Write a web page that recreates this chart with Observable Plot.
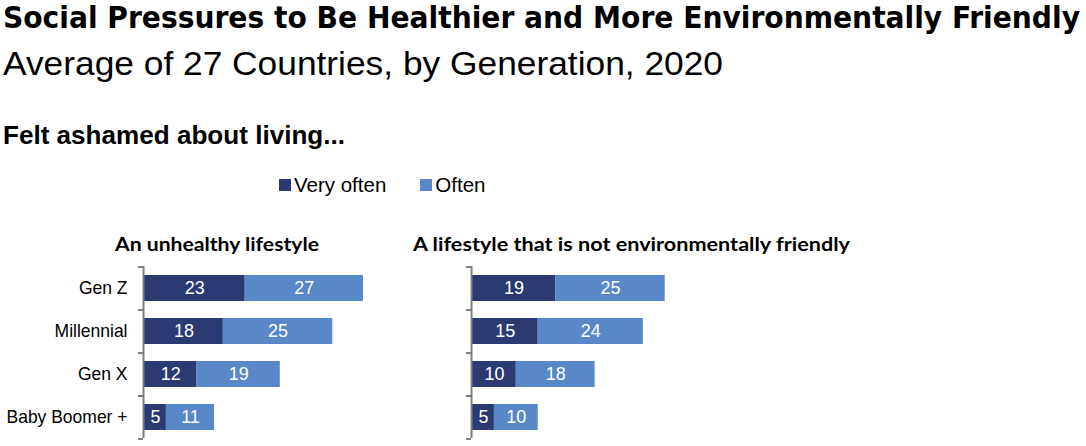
<!DOCTYPE html>
<html>
<head>
<meta charset="utf-8">
<script src="https://cdn.jsdelivr.net/npm/d3@7"></script>
<script src="https://cdn.jsdelivr.net/npm/@observablehq/plot@0.6"></script>
<style>
  html, body { margin: 0; padding: 0; background: #fff; }
  #root { position: relative; width: 1086px; height: 446px; overflow: hidden; font-family: "Liberation Sans", Arial, sans-serif; }
  .abs { position: absolute; }
  #legend { display: flex; align-items: center; font-size: 20.5px; color: #000; line-height: 1; }
  #legend .sw { display: inline-block; width: 12px; height: 12px; margin-right: 3px; }
  #legend .item { display: inline-flex; align-items: center; }
</style>
</head>
<body>
<div id="root">
  <svg id="header" class="abs" style="left:0;top:0" width="1086" height="262"></svg>
  <div id="legend" class="abs" style="left:279px;top:175px"></div>
  <div id="left" class="abs" style="left:0;top:264px"></div>
  <div id="right" class="abs" style="left:462px;top:264px"></div>
</div>
<script>
// ---- Data ----
const generations = ["Gen Z", "Millennial", "Gen X", "Baby Boomer +"];
const series = ["Very often", "Often"];
const seriesColors = ["#2b3a73", "#5888c7"];
const unhealthyVeryOften = [23, 18, 12, 5];
const unhealthyOften = [27, 25, 19, 11];
const environmentVeryOften = [19, 15, 10, 5];
const environmentOften = [25, 24, 18, 10];

const titleText = "Social Pressures to Be Healthier and More Environmentally Friendly";
const subtitleText = "Average of 27 Countries, by Generation, 2020";
const questionText = "Felt ashamed about living...";
const panelTitles = ["An unhealthy lifestyle", "A lifestyle that is not environmentally friendly"];

// ---- Header texts ----
const svgNS = "http://www.w3.org/2000/svg";
const header = document.getElementById("header");
function addText(str, x, y, opts) {
  const t = document.createElementNS(svgNS, "text");
  t.textContent = str;
  t.setAttribute("x", x);
  t.setAttribute("y", y);
  for (const [k, v] of Object.entries(opts)) t.setAttribute(k, v);
  header.appendChild(t);
  return t;
}
addText(titleText, 3, 28, {"font-family": "'DejaVu Sans Condensed', 'DejaVu Sans', sans-serif", "font-weight": "bold", "font-size": 31, "textLength": 1077, "lengthAdjust": "spacingAndGlyphs", fill: "#000"});
addText(subtitleText, 3, 75, {"font-family": "'Liberation Sans', Arial, sans-serif", "font-size": 34, "textLength": 720, "lengthAdjust": "spacingAndGlyphs", fill: "#000"});
addText(questionText, 3, 144, {"font-family": "'Liberation Sans', Arial, sans-serif", "font-weight": "bold", "font-size": 26, "textLength": 342, "lengthAdjust": "spacingAndGlyphs", fill: "#000"});
addText(panelTitles[0], 115, 251, {"font-family": "Lato, 'Open Sans', sans-serif", "font-weight": "bold", "font-size": 19, "textLength": 204, "lengthAdjust": "spacingAndGlyphs", fill: "#000"});
addText(panelTitles[1], 413, 251, {"font-family": "Lato, 'Open Sans', sans-serif", "font-weight": "bold", "font-size": 19, "textLength": 437, "lengthAdjust": "spacingAndGlyphs", fill: "#000"});

// ---- Legend ----
const legend = document.getElementById("legend");
series.forEach((s, i) => {
  const item = document.createElement("span");
  item.className = "item";
  if (i > 0) item.style.marginLeft = "34px";
  const sw = document.createElement("span");
  sw.className = "sw";
  sw.style.background = seriesColors[i];
  const lab = document.createElement("span");
  lab.textContent = s;
  item.appendChild(sw);
  item.appendChild(lab);
  legend.appendChild(item);
});

// ---- Charts ----
function rows(veryOften, often) {
  const out = [];
  generations.forEach((g, i) => {
    out.push({gen: g, series: series[0], value: veryOften[i]});
    out.push({gen: g, series: series[1], value: often[i]});
  });
  return out;
}

const pxPerUnit = 4.38;
const xMax = 55;
const bandH = 172;
const step = bandH / generations.length;
const gray = "#7f7f7f";

function panel(data, marginLeft, showLabels) {
  const marks = [
    Plot.barX(data, Plot.stackX({x: "value", y: "gen", fill: "series", order: null})),
    Plot.text(data, Plot.stackX({x: "value", y: "gen", text: d => String(d.value), fill: "white", fontSize: 18, fontFamily: "'Liberation Sans', Arial, sans-serif", order: null})),
    Plot.ruleX([0], {stroke: gray, strokeWidth: 2, dx: -1}),
    Plot.axisY({tickSize: 5, text: null, label: null, dy: -step / 2, stroke: gray, strokeWidth: 2, dx: -1}),
    Plot.axisY([generations[generations.length - 1]], {tickSize: 5, text: null, label: null, dy: step / 2, stroke: gray, strokeWidth: 2, dx: -1})
  ];
  if (showLabels) {
    marks.push(Plot.axisY({tickSize: 0, tickPadding: 17, label: null, fontSize: 17.5, fill: "#000", fontFamily: "'Liberation Sans', Arial, sans-serif"}));
  }
  return Plot.plot({
    width: marginLeft + pxPerUnit * xMax,
    height: bandH + 6,
    marginTop: 2,
    marginBottom: 4,
    marginLeft: marginLeft,
    marginRight: 0,
    style: {background: "transparent", overflow: "visible"},
    x: {domain: [0, xMax], axis: null},
    y: {domain: generations, paddingInner: 0.4, paddingOuter: 0.2, axis: null, label: null},
    color: {domain: series, range: seriesColors},
    marks
  });
}

document.getElementById("left").appendChild(panel(rows(unhealthyVeryOften, unhealthyOften), 144, true));
document.getElementById("right").appendChild(panel(rows(environmentVeryOften, environmentOften), 10, false));
</script>
</body>
</html>
